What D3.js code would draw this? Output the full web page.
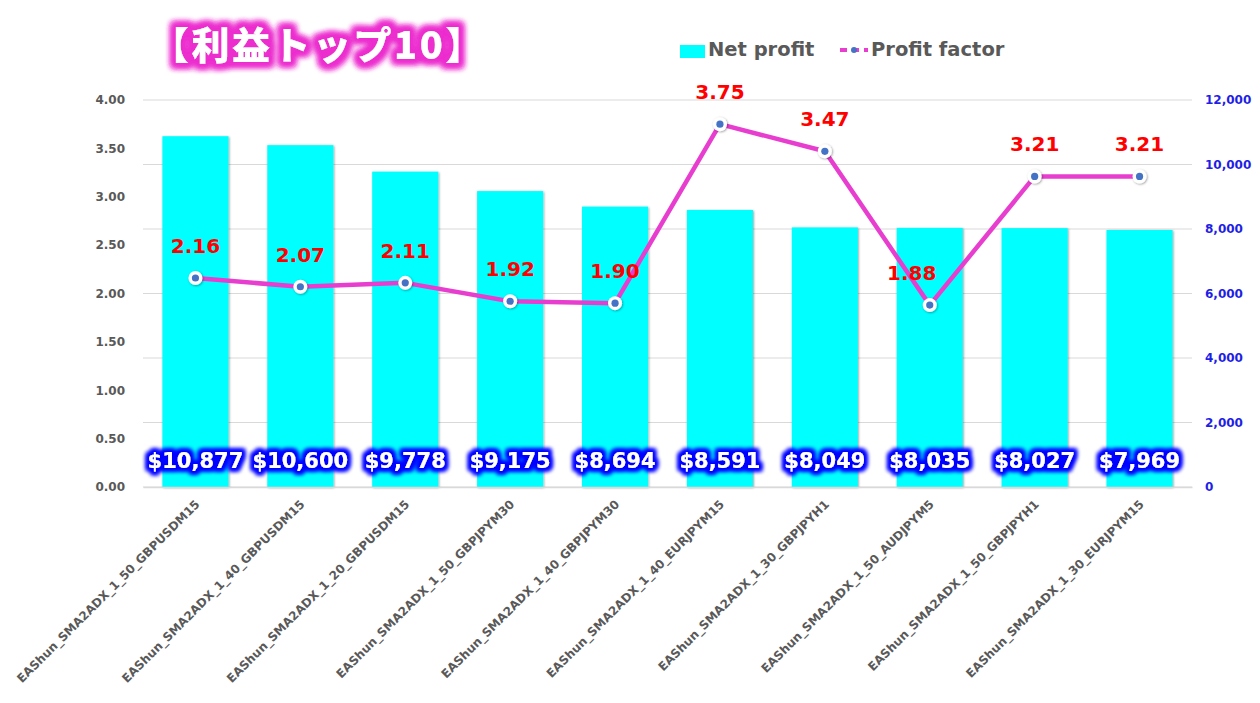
<!DOCTYPE html>
<html>
<head>
<meta charset="utf-8">
<script src="https://cdn.jsdelivr.net/npm/d3@7"></script>
<style>
  html, body { margin: 0; padding: 0; background: #fff; }
  svg { display: block; }
</style>
</head>
<body>
<svg id="chart" width="1260" height="703"></svg>
<script>
const categories = [
  "EAShun_SMA2ADX_1_50_GBPUSDM15",
  "EAShun_SMA2ADX_1_40_GBPUSDM15",
  "EAShun_SMA2ADX_1_20_GBPUSDM15",
  "EAShun_SMA2ADX_1_50_GBPJPYM30",
  "EAShun_SMA2ADX_1_40_GBPJPYM30",
  "EAShun_SMA2ADX_1_40_EURJPYM15",
  "EAShun_SMA2ADX_1_30_GBPJPYH1",
  "EAShun_SMA2ADX_1_50_AUDJPYM5",
  "EAShun_SMA2ADX_1_50_GBPJPYH1",
  "EAShun_SMA2ADX_1_30_EURJPYM15"
];
const netProfit = [10877, 10600, 9778, 9175, 8694, 8591, 8049, 8035, 8027, 7969];
const profitFactor = [2.16, 2.07, 2.11, 1.92, 1.90, 3.75, 3.47, 1.88, 3.21, 3.21];
const leftTicks = [0, 0.5, 1, 1.5, 2, 2.5, 3, 3.5, 4];
const rightTicks = [0, 2000, 4000, 6000, 8000, 10000, 12000];
const titleText = "【利益トップ10】";
const legendLabels = ["Net profit", "Profit factor"];

const svg = d3.select("#chart");
const FONT = "'DejaVu Sans', Verdana, sans-serif";
const plot = { left: 143, right: 1192, top: 100, bottom: 487 };

const x = d3.scaleBand().domain(categories).range([plot.left, plot.right]).paddingInner(0.37).paddingOuter(0.185);
const yL = d3.scaleLinear().domain([0, 4]).range([plot.bottom, plot.top]);
const yR = d3.scaleLinear().domain([0, 12000]).range([plot.bottom, plot.top]);

const defs = svg.append("defs");
function glow(id, color, dil, blur, reps) {
  const f = defs.append("filter").attr("id", id).attr("x", "-30%").attr("y", "-60%").attr("width", "160%").attr("height", "220%");
  f.append("feMorphology").attr("in", "SourceAlpha").attr("operator", "dilate").attr("radius", dil).attr("result", "d");
  f.append("feGaussianBlur").attr("in", "d").attr("stdDeviation", blur).attr("result", "b");
  f.append("feFlood").attr("flood-color", color).attr("result", "c");
  f.append("feComposite").attr("in", "c").attr("in2", "b").attr("operator", "in").attr("result", "g");
  const m = f.append("feMerge");
  for (let k = 0; k < reps; k++) m.append("feMergeNode").attr("in", "g");
  m.append("feMergeNode").attr("in", "SourceGraphic");
}
glow("glowBlue", "#0000ff", 2.5, 2.2, 2);
glow("glowPink", "#ec2fcf", 3.5, 3.2, 3);
const sh = defs.append("filter").attr("id", "shadow").attr("x", "-20%").attr("y", "-20%").attr("width", "140%").attr("height", "140%");
sh.append("feDropShadow").attr("dx", 0.8).attr("dy", 0.8).attr("stdDeviation", 1.2).attr("flood-color", "#000").attr("flood-opacity", 0.4);

// gridlines (right axis)
svg.append("g").selectAll("line").data(rightTicks).join("line")
  .attr("x1", plot.left).attr("x2", plot.right)
  .attr("y1", d => yR(d)).attr("y2", d => yR(d))
  .attr("stroke", "#d9d9d9").attr("stroke-width", 1);

// left axis
const gL = svg.append("g").attr("transform", `translate(${plot.left},0)`)
  .call(d3.axisLeft(yL).tickValues(leftTicks).tickFormat(d3.format(".2f")).tickSize(0).tickPadding(18));
gL.select(".domain").remove();
gL.selectAll("text").attr("font-family", FONT).attr("font-weight", "bold").attr("font-size", 12).attr("fill", "#595959");

// right axis
const gR = svg.append("g").attr("transform", `translate(${plot.right},0)`)
  .call(d3.axisRight(yR).tickValues(rightTicks).tickFormat(d3.format(",")).tickSize(0).tickPadding(13));
gR.select(".domain").remove();
gR.selectAll("text").attr("font-family", FONT).attr("font-weight", "bold").attr("font-size", 12).attr("fill", "#1f1fe6");

// bars
svg.append("g").selectAll("rect").data(netProfit).join("rect")
  .attr("x", (d, i) => x(categories[i]))
  .attr("width", x.bandwidth())
  .attr("y", d => yR(d))
  .attr("height", d => yR(0) - yR(d))
  .attr("fill", "#00ffff")
  .attr("filter", "url(#shadow)");

// x axis
const gX = svg.append("g").attr("transform", `translate(0,${plot.bottom})`)
  .call(d3.axisBottom(x).tickSize(0).tickPadding(0));
gX.select(".domain").attr("stroke", "#d9d9d9").attr("stroke-width", 1.5);
gX.selectAll("text")
  .attr("font-family", FONT).attr("font-weight", "bold").attr("font-size", 12).attr("fill", "#595959")
  .attr("text-anchor", "end").attr("dy", 0).attr("y", 0)
  .attr("transform", "translate(5,18) rotate(-45)");

// bar value labels
svg.append("g").selectAll("text").data(netProfit).join("text")
  .attr("x", (d, i) => x(categories[i]) + x.bandwidth() / 2)
  .attr("y", yR(0) - 19)
  .attr("text-anchor", "middle")
  .attr("font-family", FONT).attr("font-weight", "bold").attr("font-size", 21)
  .attr("fill", "#ffffff")
  .attr("filter", "url(#glowBlue)")
  .text(d => "$" + d3.format(",")(d));

// line
const cx = i => x(categories[i]) + x.bandwidth() / 2;
const line = d3.line().x((d, i) => cx(i)).y(d => yL(d));
svg.append("path").datum(profitFactor)
  .attr("d", line).attr("fill", "none")
  .attr("stroke", "#e83ecf").attr("stroke-width", 4.5).attr("stroke-linejoin", "round");

const mk = svg.append("g").selectAll("g").data(profitFactor).join("g")
  .attr("transform", (d, i) => `translate(${cx(i)},${yL(d)})`);
mk.append("circle").attr("r", 7).attr("fill", "#fff").attr("filter", "url(#shadow)");
mk.append("circle").attr("r", 3.6).attr("fill", "#4472c4");

// line labels
svg.append("g").selectAll("text").data(profitFactor).join("text")
  .attr("x", (d, i) => cx(i) + (i === 7 ? -18 : 0))
  .attr("y", d => yL(d) - 25)
  .attr("text-anchor", "middle")
  .attr("font-family", FONT).attr("font-weight", "bold").attr("font-size", 20)
  .attr("fill", "#ff0000")
  .text(d => d3.format(".2f")(d));

// title
svg.append("text")
  .attr("x", 151).attr("y", 59)
  .attr("font-family", "'Noto Sans CJK JP', sans-serif").attr("font-weight", "900").attr("font-size", 38)
  .attr("letter-spacing", 2.5)
  .attr("fill", "#ffffff").attr("filter", "url(#glowPink)")
  .text(titleText);

// legend
const lg = svg.append("g");
lg.append("rect").attr("x", 680).attr("y", 45).attr("width", 25).attr("height", 13).attr("fill", "#00ffff");
lg.append("text").attr("x", 708).attr("y", 56)
  .attr("font-family", FONT).attr("font-weight", "bold").attr("font-size", 19.5).attr("fill", "#595959")
  .text(legendLabels[0]);
lg.append("line").attr("x1", 840).attr("x2", 868).attr("y1", 50).attr("y2", 50)
  .attr("stroke", "#e83ecf").attr("stroke-width", 4).attr("stroke-dasharray", "7,5");
lg.append("circle").attr("cx", 854).attr("cy", 50).attr("r", 3).attr("fill", "#4472c4");
lg.append("text").attr("x", 871).attr("y", 56)
  .attr("font-family", FONT).attr("font-weight", "bold").attr("font-size", 19.5).attr("fill", "#595959")
  .text(legendLabels[1]);
</script>
</body>
</html>
